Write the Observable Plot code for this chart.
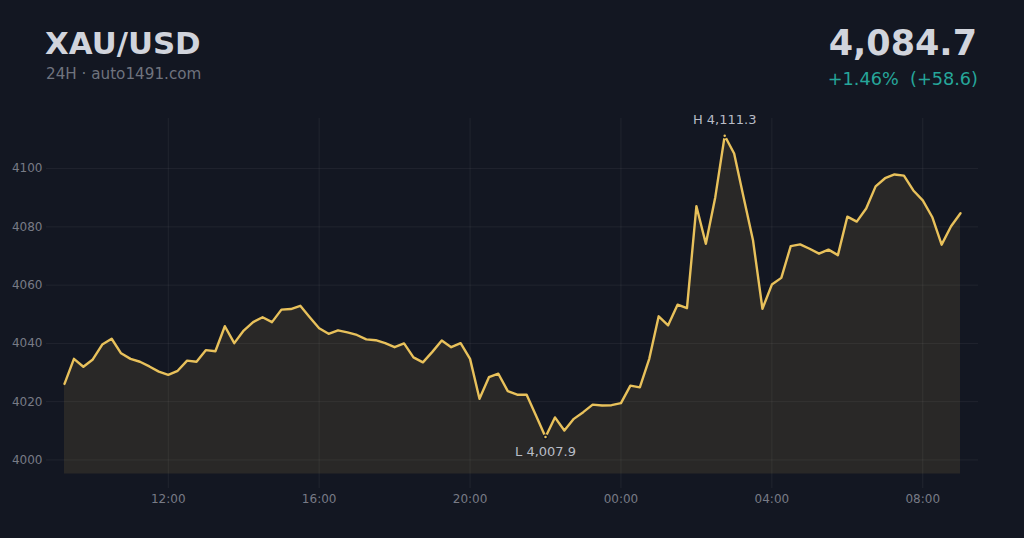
<!DOCTYPE html>
<html>
<head>
<meta charset="utf-8">
<script src="https://cdn.jsdelivr.net/npm/d3@7"></script>
<script src="https://cdn.jsdelivr.net/npm/@observablehq/plot@0.6"></script>
<style>
  html, body { margin: 0; padding: 0; background: #131722; width: 1024px; height: 538px; overflow: hidden; }
  body { font-family: "DejaVu Sans", sans-serif; }
  #header { position: relative; height: 100px; }
  #header div { position: absolute; line-height: 1; white-space: pre; }
  #title { left: 45px; top: 27.6px; font-size: 30.8px; font-weight: bold; color: #d1d4dc; }
  #sub { left: 46px; top: 66.5px; font-size: 15.2px; color: #6f737e; }
  #price { right: 47px; top: 25.5px; font-size: 35px; font-weight: bold; color: #d1d4dc; }
  #chg { right: 46px; top: 71px; font-size: 17.7px; color: #26a69a; }
  svg { display: block; }
</style>
</head>
<body>
<div id="header">
  <div id="title"></div>
  <div id="sub"></div>
  <div id="price"></div>
  <div id="chg"></div>
</div>
<div id="chart"></div>
<script>
const symbol = "XAU/USD";
const subtitle = "24H · auto1491.com";
const startTime = "2025-01-06T09:15:00Z";
const stepMinutes = 15;
const prices = [
  4026.1, 4034.7, 4032.0, 4034.5, 4039.6, 4041.6, 4036.6, 4034.7, 4033.7, 4032.1,
  4030.3, 4029.2, 4030.6, 4034.1, 4033.7, 4037.7, 4037.3, 4045.9, 4040.1, 4044.4,
  4047.3, 4049.0, 4047.3, 4051.6, 4051.8, 4052.9, 4049.0, 4045.2, 4043.3, 4044.5,
  4043.8, 4042.9, 4041.4, 4041.1, 4040.1, 4038.7, 4040.0, 4035.2, 4033.5, 4037.1,
  4041.0, 4038.7, 4040.1, 4034.7, 4021.0, 4028.4, 4029.6, 4023.6, 4022.4, 4022.4,
  4015.2, 4007.9, 4014.6, 4010.1, 4014.1, 4016.4, 4019.0, 4018.7, 4018.8, 4019.5,
  4025.5, 4024.9, 4034.7, 4049.3, 4046.2, 4053.3, 4052.1, 4087.1, 4074.2, 4090.2,
  4111.3, 4105.2, 4090.2, 4075.4, 4051.9, 4060.2, 4062.5, 4073.4, 4074.0, 4072.5,
  4070.8, 4072.2, 4070.3, 4083.5, 4081.8, 4086.3, 4093.9, 4096.7, 4098.0, 4097.6,
  4092.5, 4089.1, 4083.4, 4073.9, 4080.2, 4084.7
];
const yTicks = [4000, 4020, 4040, 4060, 4080, 4100];
const xTickTimes = ["2025-01-06T12:00:00Z", "2025-01-06T16:00:00Z", "2025-01-06T20:00:00Z",
                    "2025-01-07T00:00:00Z", "2025-01-07T04:00:00Z", "2025-01-07T08:00:00Z"];
const yDomain = [3990.2, 4117.2];
const areaBase = 3995.2;

const t0 = new Date(startTime);
const data = prices.map((v, i) => ({t: new Date(+t0 + i * stepMinutes * 60000), v}));
const hi = data.reduce((a, b) => b.v > a.v ? b : a);
const lo = data.reduce((a, b) => b.v < a.v ? b : a);
const first = prices[0], last = prices[prices.length - 1];
const diff = last - first;
const fmt = d3.format(",.1f");

document.getElementById("title").textContent = symbol;
document.getElementById("sub").textContent = subtitle;
document.getElementById("price").textContent = fmt(last);
document.getElementById("chg").textContent =
  (diff >= 0 ? "+" : "") + (diff / first * 100).toFixed(2) + "%  (" + (diff >= 0 ? "+" : "") + diff.toFixed(1) + ")";

const gold = "#e8c15b";
const xTicks = xTickTimes.map(s => new Date(s));
const chart = Plot.plot({
  width: 1024,
  height: 438,
  marginLeft: 46,
  marginRight: 46,
  marginTop: 18,
  marginBottom: 50,
  insetLeft: 18,
  insetRight: 18,
  style: {background: "transparent", color: "#787b86", fontFamily: "DejaVu Sans", fontSize: "12px"},
  x: {type: "utc", domain: d3.extent(data, d => d.t)},
  y: {domain: yDomain},
  marks: [
    Plot.gridY(yTicks, {stroke: "white", strokeOpacity: 0.06}),
    Plot.gridX(xTicks, {stroke: "white", strokeOpacity: 0.06}),
    Plot.areaY(data, {x: "t", y1: areaBase, y2: "v", fill: gold, fillOpacity: 0.1}),
    Plot.lineY(data, {x: "t", y: "v", stroke: gold, strokeWidth: 2.4}),
    Plot.axisY(yTicks, {tickSize: 0, tickPadding: 4, label: null, fill: "#787b86", fontSize: 12, tickFormat: d => String(d)}),
    Plot.axisX(xTicks, {tickSize: 0, tickPadding: 6, label: null, tickFormat: d3.utcFormat("%H:%M"), fill: "#787b86", fontSize: 12}),
    Plot.dot([hi, lo], {x: "t", y: "v", r: 2, fill: gold, stroke: "#131722", strokeWidth: 1.5}),
    Plot.text([hi], {x: "t", y: "v", text: d => "H " + fmt(d.v), dy: -16, fill: "#b8bcc6", fontSize: 13}),
    Plot.text([lo], {x: "t", y: "v", text: d => "L " + fmt(d.v), dy: 15, fill: "#b8bcc6", fontSize: 13})
  ]
});
document.getElementById("chart").appendChild(chart);
</script>
</body>
</html>
